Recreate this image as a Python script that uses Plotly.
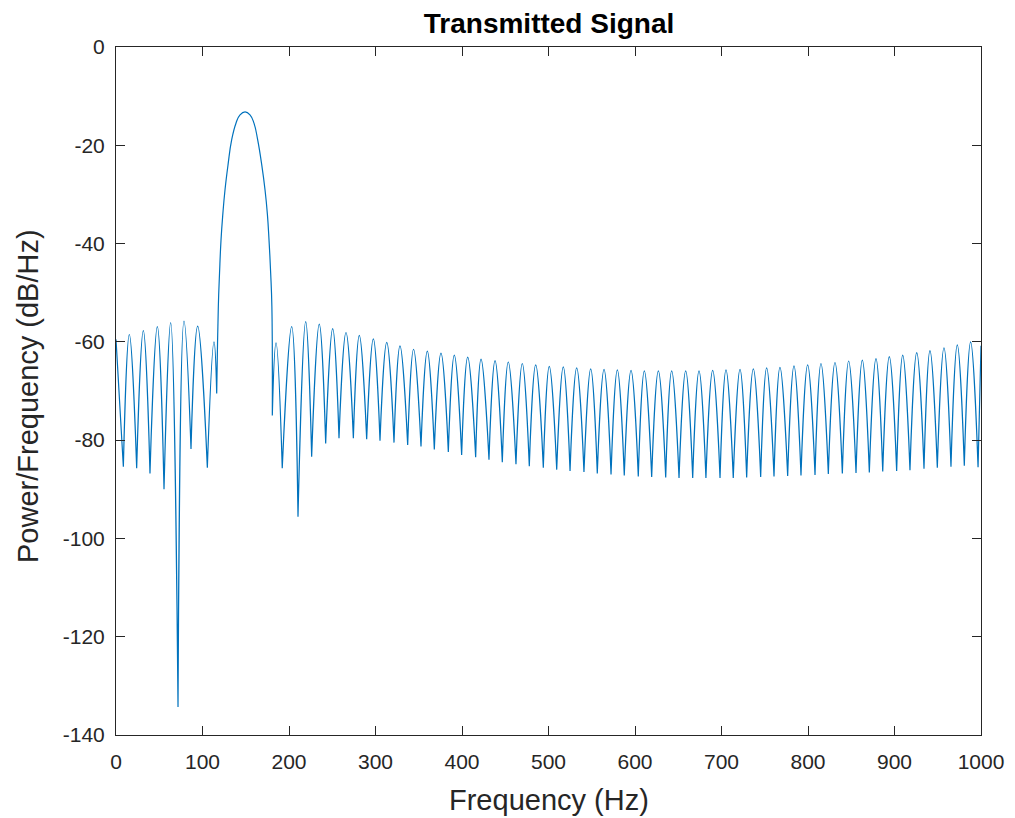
import plotly.graph_objects as go

# ---- data (Hz, dB/Hz) ----
# side-lobe peaks
peak_hz = [0.0, 15.4, 31.6, 47.8, 63.2, 78.6, 94.4, 113.3,
           185.0, 203.1, 219.3, 235.0, 250.5, 265.9, 281.3, 297.5, 313.0, 328.3,
           344.0, 359.9, 375.7, 391.1, 406.6, 422.0, 438.2, 453.5, 469.7, 485.2,
           500.9, 517.1, 532.6, 548.8, 564.2, 579.6, 595.4, 610.8, 627.0, 642.4,
           658.6, 674.0, 689.8, 705.2, 721.4, 736.8, 752.2, 767.6, 783.8, 799.6,
           815.0, 831.2, 847.0, 862.8, 878.6, 894.0, 909.5, 925.7, 941.0, 957.2,
           972.6, 988.0, 1000.0]
peak_db = [-59.5, -58.5, -57.7, -56.9, -56.1, -55.8, -56.8, -60.0,
           -60.2, -56.9, -55.9, -56.4, -57.3, -58.1, -58.7, -59.4, -60.1, -60.8,
           -61.5, -61.9, -62.3, -62.7, -63.1, -63.5, -63.8, -64.1, -64.4, -64.7,
           -65.0, -65.1, -65.3, -65.5, -65.6, -65.7, -65.8, -65.9, -65.9, -65.9,
           -65.9, -65.9, -65.8, -65.7, -65.6, -65.5, -65.3, -65.2, -64.9, -64.7,
           -64.4, -64.2, -63.9, -63.7, -63.4, -63.0, -62.7, -62.2, -61.8, -61.2,
           -60.6, -60.0, -60.8]
# nulls between lobes
null_hz = [8.5, 23.9, 39.3, 55.5, 71.7, 86.7, 105.6, 116.4,
           180.7, 192.2, 210.4, 226.2, 242.4, 257.8, 274.4, 289.8, 305.2, 321.4,
           337.2, 352.6, 368.0, 384.2, 399.6, 415.8, 431.2, 446.6, 462.4, 477.8,
           494.0, 509.5, 524.9, 541.0, 556.4, 572.3, 587.6, 603.8, 619.3, 635.5,
           650.9, 666.7, 682.0, 698.3, 713.6, 729.1, 745.3, 760.7, 776.5, 791.9,
           808.1, 823.5, 839.7, 855.5, 870.9, 886.4, 902.5, 917.9, 934.1, 949.5,
           965.3, 980.7, 996.6]
null_db = [-85.4, -85.7, -86.8, -90.0, -134.3, -81.8, -85.6, -70.5,
           -75.0, -85.7, -95.6, -83.4, -80.7, -79.6, -79.6, -79.8, -80.1, -80.5,
           -81.0, -81.3, -81.9, -82.4, -83.0, -83.5, -84.0, -84.5, -84.9, -85.3,
           -85.6, -86.0, -86.3, -86.5, -86.8, -87.0, -87.2, -87.4, -87.5, -87.6,
           -87.7, -87.7, -87.7, -87.7, -87.7, -87.6, -87.5, -87.4, -87.3, -87.2,
           -87.1, -86.9, -86.8, -86.7, -86.6, -86.4, -86.3, -86.1, -85.8, -85.6,
           -85.4, -85.2, -85.5]
# main lobe outline
main_hz = [118.3, 119.7, 121.4, 123.5, 126.0, 129.5, 133.7, 138.7, 143.4, 149.2,
           154.9, 159.5, 163.8, 168.5, 172.3, 175.0, 176.9, 178.8, 180.2]
main_db = [-52.8, -46.0, -39.3, -34.0, -29.1, -24.0, -18.9, -15.5, -13.8, -13.2,
           -13.8, -15.5, -18.9, -24.0, -29.1, -34.0, -39.3, -46.0, -52.8]

x_ticks = [0, 100, 200, 300, 400, 500, 600, 700, 800, 900, 1000]
y_ticks = [0, -20, -40, -60, -80, -100, -120, -140]

# ---- assemble the trace (nulls repeated so the spline has sharp cusps) ----
pts = [(f, d, False) for f, d in zip(peak_hz, peak_db)]
pts += [(f, d, True) for f, d in zip(null_hz, null_db)]
pts += [(f, d, False) for f, d in zip(main_hz, main_db)]
pts.sort(key=lambda p: p[0])
xs, ys = [], []
for f, d, is_null in pts:
    reps = 2 if is_null else 1
    xs += [f] * reps
    ys += [d] * reps

FONT = "Liberation Sans, Arial, sans-serif"

fig = go.Figure()
fig.add_trace(go.Scatter(
    x=xs, y=ys, mode="lines",
    line=dict(color="#0072BD", width=1.2, shape="spline", smoothing=1.3, simplify=False),
    hoverinfo="skip", showlegend=False,
))

axis_common = dict(
    showgrid=False, zeroline=False, showline=True, linecolor="#262626", linewidth=1,
    mirror="ticks", ticks="inside", ticklen=9, tickwidth=1, tickcolor="#262626",
    tickfont=dict(family=FONT, size=21, color="#262626"), automargin=False,
)
fig.update_xaxes(range=[0, 1000], tickvals=x_ticks, ticktext=[str(v) for v in x_ticks],
                 ticklabelstandoff=8, **axis_common)
fig.update_yaxes(range=[-140, 0], tickvals=y_ticks, ticktext=[str(v) for v in y_ticks],
                 ticklabelstandoff=6, **axis_common)

# axis titles as annotations (fixed pixel offsets from the plot area)
fig.add_annotation(text="Frequency (Hz)", xref="paper", yref="paper", x=0.5, y=0,
                   xanchor="center", yanchor="middle", yshift=-65, showarrow=False,
                   font=dict(family=FONT, size=29, color="#262626"))
fig.add_annotation(text="Power/Frequency (dB/Hz)", xref="paper", yref="paper", x=0, y=0.5,
                   xanchor="center", yanchor="middle", xshift=-88, yshift=-5, textangle=-90,
                   showarrow=False, font=dict(family=FONT, size=29, color="#262626"))

fig.update_layout(
    width=1007, height=810,
    margin=dict(l=108, r=34, t=39, b=83),
    paper_bgcolor="white", plot_bgcolor="white",
    title=dict(text="<b>Transmitted Signal</b>", x=(549 - 8) / 1007, xanchor="center",
               y=1 - (23 - 8) / 810, yanchor="middle",
               font=dict(family=FONT, size=28, color="black")),
)
fig.write_html("out.html")
